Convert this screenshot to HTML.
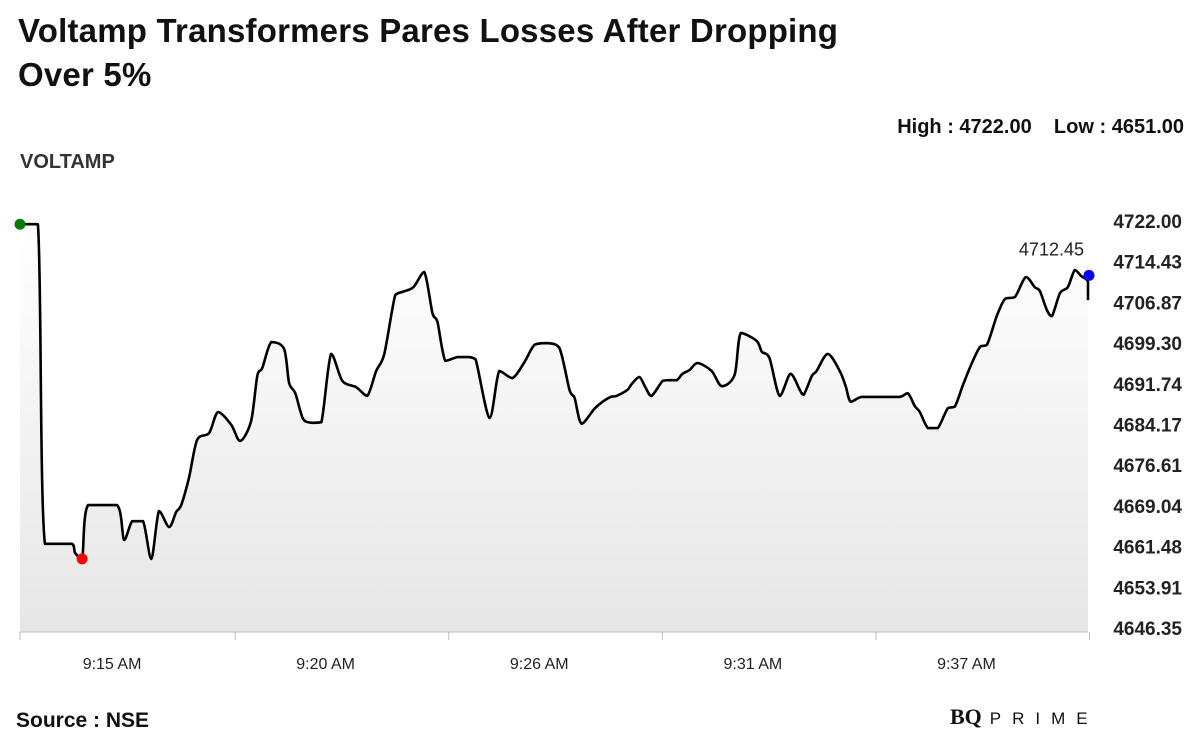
<!DOCTYPE html>
<html><head><meta charset="utf-8"><style>
body{margin:0;background:#fff;width:1200px;height:753px;overflow:hidden;font-family:"Liberation Sans",sans-serif;position:relative}
.t{position:absolute;white-space:nowrap}
</style></head><body>
<div class="t" style="left:18px;top:9px;font-size:33px;font-weight:bold;line-height:44px;color:#111;letter-spacing:0.2px">Voltamp Transformers Pares Losses After Dropping<br>Over 5%</div>
<div class="t" style="right:16px;top:116px;font-size:20px;font-weight:bold;color:#111">High : 4722.00&nbsp;&nbsp;&nbsp;&nbsp;Low : 4651.00</div>
<div class="t" style="left:20px;top:151px;font-size:20px;font-weight:bold;color:#333">VOLTAMP</div>
<div class="t" style="left:16px;top:709px;font-size:21px;font-weight:bold;color:#111">Source : NSE</div>
<div class="t" style="left:950px;top:704px;font-size:22px;color:#111;font-family:'Liberation Serif',serif"><b>BQ</b><span style="font-family:'Liberation Sans',sans-serif;font-size:17px;letter-spacing:11px;margin-left:8px">PRIME</span></div>
<svg id="chart" width="1200" height="753" style="position:absolute;left:0;top:0">
<defs><linearGradient id="g" x1="0" y1="0" x2="0" y2="1"><stop offset="0" stop-color="#ffffff"/><stop offset="1" stop-color="#e6e6e6"/></linearGradient></defs>
</svg>
<script>
const times=[12.63,13.09,13.27,13.97,14.05,14.23,14.38,15.13,15.31,15.52,15.80,16.01,16.21,16.47,16.65,16.78,16.98,17.19,17.50,17.73,18.07,18.30,18.58,18.74,18.87,19.10,19.43,19.56,19.72,19.92,20.15,20.39,20.64,20.93,21.29,21.57,21.80,22.01,22.29,22.47,22.76,23.04,23.25,23.38,23.58,23.89,24.18,24.36,24.72,24.97,25.31,25.62,25.88,26.21,26.52,26.78,26.91,27.09,27.42,27.63,27.84,27.99,28.27,28.38,28.58,28.74,28.89,29.18,29.33,29.54,29.69,29.87,30.08,30.44,30.70,31.03,31.19,31.60,31.73,31.93,32.19,32.47,32.71,32.81,33.02,33.14,33.43,33.74,33.89,34.02,34.30,34.77,35.28,35.49,35.67,35.80,36.01,36.26,36.52,36.70,36.91,37.14,37.35,37.53,37.78,37.99,38.25,38.53,38.76,38.89,39.07,39.20,39.41,39.61,39.79,39.95,40.13,40.13];
const prices=[4721.4,4721.4,4662.0,4662.0,4660.3,4659.2,4669.2,4669.2,4662.7,4666.2,4666.2,4659.2,4668.1,4665.1,4667.9,4669.2,4674.2,4681.3,4682.6,4686.5,4684.1,4681.1,4684.8,4693.2,4694.7,4699.5,4698.2,4691.9,4690.0,4685.2,4684.5,4684.6,4697.3,4692.3,4691.1,4689.5,4694.1,4697.3,4708.2,4708.8,4709.7,4712.5,4704.9,4703.2,4696.0,4696.7,4696.7,4696.3,4685.4,4694.1,4692.8,4695.8,4699.0,4699.3,4698.4,4690.6,4689.1,4684.3,4687.1,4688.4,4689.3,4689.5,4690.6,4691.7,4693.0,4691.0,4689.5,4692.3,4692.4,4692.4,4693.6,4694.3,4695.6,4694.1,4691.3,4693.4,4701.2,4699.7,4697.7,4696.5,4689.5,4693.6,4690.6,4689.7,4693.2,4694.1,4697.3,4694.1,4691.3,4688.4,4689.3,4689.3,4689.3,4690.0,4687.6,4686.5,4683.5,4683.5,4687.2,4687.5,4691.5,4695.6,4698.6,4699.0,4704.3,4707.5,4707.9,4711.6,4709.7,4709.0,4705.5,4704.3,4708.6,4709.7,4712.9,4711.8,4710.7,4707.3];
const yTicks=[4722.00,4714.43,4706.87,4699.30,4691.74,4684.17,4676.61,4669.04,4661.48,4653.91,4646.35];
const xTickTimes=[15,20.5,26,31.5,37];
const xTickLabels=["9:15 AM","9:20 AM","9:26 AM","9:31 AM","9:37 AM"];
const lastPrice=4712.45;
const X0=20,X1=1088,T0=12.63,T1=40.13,Y0=221,Y1=628,V0=4722,V1=4646.35,BASE=632;
const x=t=>X0+(t-T0)/(T1-T0)*(X1-X0);
const y=v=>Y0+(V0-v)/(V0-V1)*(Y1-Y0);
const svg=document.getElementById('chart');const NS="http://www.w3.org/2000/svg";
function mk(tag,attrs){const e=document.createElementNS(NS,tag);for(const k in attrs)e.setAttribute(k,attrs[k]);svg.appendChild(e);return e;}
const clamp=(v,a,b)=>Math.min(Math.max(v,Math.min(a,b)),Math.max(a,b));
const pts=times.map((t,i)=>[x(t),y(prices[i])]);
let d='M'+pts[0][0].toFixed(1)+','+pts[0][1].toFixed(1);
for(let i=0;i<pts.length-1;i++){
  const p0=pts[Math.max(i-1,0)],p1=pts[i],p2=pts[i+1],p3=pts[Math.min(i+2,pts.length-1)];
  const k=0.15;
  const c1=[clamp(p1[0]+(p2[0]-p0[0])*k,p1[0],p2[0]),clamp(p1[1]+(p2[1]-p0[1])*k,p1[1],p2[1])];
  const c2=[clamp(p2[0]-(p3[0]-p1[0])*k,p1[0],p2[0]),clamp(p2[1]-(p3[1]-p1[1])*k,p1[1],p2[1])];
  d+=`C${c1[0].toFixed(1)},${c1[1].toFixed(1)} ${c2[0].toFixed(1)},${c2[1].toFixed(1)} ${p2[0].toFixed(1)},${p2[1].toFixed(1)}`;
}
const area=mk('path',{d:d+`L${X1},${BASE}L${X0},${BASE}Z`,fill:'url(#g)'});


const line=mk('path',{d:d,fill:'none',stroke:'#000','stroke-width':2.6,'stroke-linejoin':'round'});


const ax=mk('line',{x1:X0,x2:X1,y1:BASE,y2:BASE,stroke:'#bbb','stroke-width':1});


xTickTimes.forEach((t,i)=>{
  const tx=mk('text',{x:x(t),y:669,'text-anchor':'middle','font-size':16,fill:'#222','font-family':'Liberation Sans, sans-serif'});
  tx.textContent=xTickLabels[i];
  
  
});
[T0].concat(xTickTimes.map(t=>t+3.17)).forEach(t=>{
  const tk=mk('line',{x1:x(t),x2:x(t),y1:BASE,y2:BASE+8,stroke:'#bbb'});
  
  
});
yTicks.forEach(v=>{
  const tx=mk('text',{x:1182,y:y(v)+7,'text-anchor':'end','font-size':19,'font-weight':'bold',fill:'#222','font-family':'Liberation Sans, sans-serif'});
  tx.textContent=v.toFixed(2);
  
  
});
let mi=0;prices.forEach((p,i)=>{if(p<prices[mi])mi=i;});
const g1=mk('circle',{cx:x(times[0]),cy:y(prices[0]),r:5.5,fill:'#0a7a0a'});


const r1=mk('circle',{cx:x(times[mi]),cy:y(prices[mi]),r:5.5,fill:'#f00'});


const b1=mk('circle',{cx:x(times[times.length-1])+1,cy:y(lastPrice)+3,r:5.5,fill:'#00f'});


const lt=mk('text',{x:x(times[times.length-1])-4,y:y(lastPrice)-17,'text-anchor':'end','font-size':18,fill:'#222','font-family':'Liberation Sans, sans-serif'});
lt.textContent=lastPrice.toFixed(2);


</script>
</body></html>
